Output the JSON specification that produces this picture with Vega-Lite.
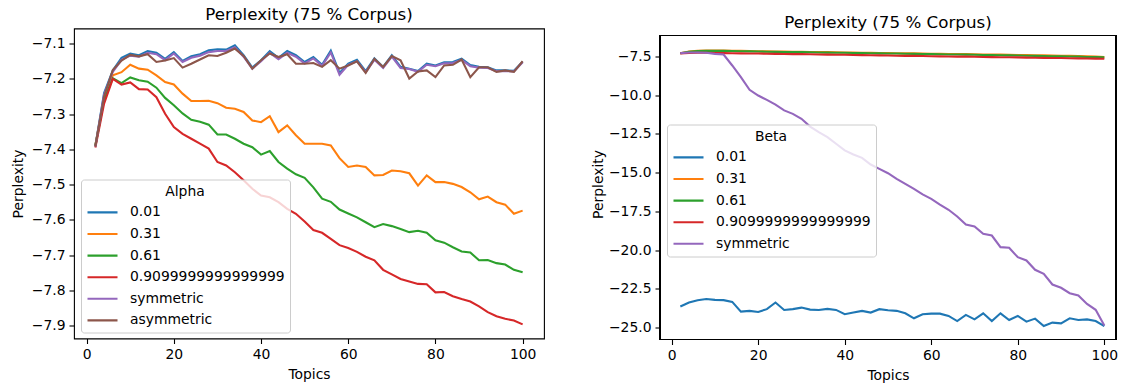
{
"$schema": "https://vega.github.io/schema/vega-lite/v6.json",
"background": "white",
"padding": {"left": 10, "top": 5.5, "right": 0, "bottom": 0},
"spacing": 46,
"align": "none",
"config": {
  "font": "DejaVu Sans",
  "view": {"stroke": "black", "strokeWidth": 1.1},
  "axis": {"grid": false, "domain": false, "tickColor": "black", "tickSize": 5, "tickWidth": 1.1, "labelColor": "black", "labelFontSize": 13.9, "labelPadding": 4, "titleFontSize": 13.9, "titleFontWeight": "normal", "titleColor": "black", "labelFont": "DejaVu Sans", "titleFont": "DejaVu Sans"},
  "title": {"fontSize": 16.7, "fontWeight": "normal", "font": "DejaVu Sans", "color": "black"},
  "legend": {"labelFont": "DejaVu Sans", "titleFont": "DejaVu Sans", "labelColor": "black", "titleColor": "black"}
},
"datasets": {
"L": [
{"t":2,"s":"0.01","v":-7.390},{"t":4,"s":"0.01","v":-7.240},{"t":6,"s":"0.01","v":-7.176},{"t":8,"s":"0.01","v":-7.140},{"t":10,"s":"0.01","v":-7.128},{"t":12,"s":"0.01","v":-7.133},{"t":14,"s":"0.01","v":-7.121},{"t":16,"s":"0.01","v":-7.126},{"t":18,"s":"0.01","v":-7.143},{"t":20,"s":"0.01","v":-7.124},
{"t":22,"s":"0.01","v":-7.149},{"t":24,"s":"0.01","v":-7.136},{"t":26,"s":"0.01","v":-7.130},{"t":28,"s":"0.01","v":-7.119},{"t":30,"s":"0.01","v":-7.116},{"t":32,"s":"0.01","v":-7.117},{"t":34,"s":"0.01","v":-7.105},{"t":36,"s":"0.01","v":-7.133},{"t":38,"s":"0.01","v":-7.168},{"t":40,"s":"0.01","v":-7.147},
{"t":42,"s":"0.01","v":-7.121},{"t":44,"s":"0.01","v":-7.140},{"t":46,"s":"0.01","v":-7.121},{"t":48,"s":"0.01","v":-7.133},{"t":50,"s":"0.01","v":-7.152},{"t":52,"s":"0.01","v":-7.138},{"t":54,"s":"0.01","v":-7.160},{"t":56,"s":"0.01","v":-7.120},{"t":58,"s":"0.01","v":-7.183},{"t":60,"s":"0.01","v":-7.157},
{"t":62,"s":"0.01","v":-7.146},{"t":64,"s":"0.01","v":-7.178},{"t":66,"s":"0.01","v":-7.142},{"t":68,"s":"0.01","v":-7.166},{"t":70,"s":"0.01","v":-7.133},{"t":72,"s":"0.01","v":-7.166},{"t":74,"s":"0.01","v":-7.171},{"t":76,"s":"0.01","v":-7.178},{"t":78,"s":"0.01","v":-7.157},{"t":80,"s":"0.01","v":-7.162},
{"t":82,"s":"0.01","v":-7.153},{"t":84,"s":"0.01","v":-7.152},{"t":86,"s":"0.01","v":-7.143},{"t":88,"s":"0.01","v":-7.161},{"t":90,"s":"0.01","v":-7.166},{"t":92,"s":"0.01","v":-7.167},{"t":94,"s":"0.01","v":-7.176},{"t":96,"s":"0.01","v":-7.176},{"t":98,"s":"0.01","v":-7.177},{"t":100,"s":"0.01","v":-7.151},
{"t":2,"s":"0.31","v":-7.388},{"t":4,"s":"0.31","v":-7.255},{"t":6,"s":"0.31","v":-7.19},{"t":8,"s":"0.31","v":-7.181},{"t":10,"s":"0.31","v":-7.16},{"t":12,"s":"0.31","v":-7.171},{"t":14,"s":"0.31","v":-7.174},{"t":16,"s":"0.31","v":-7.19},{"t":18,"s":"0.31","v":-7.209},{"t":20,"s":"0.31","v":-7.216},
{"t":22,"s":"0.31","v":-7.242},{"t":24,"s":"0.31","v":-7.263},{"t":26,"s":"0.31","v":-7.263},{"t":28,"s":"0.31","v":-7.262},{"t":30,"s":"0.31","v":-7.269},{"t":32,"s":"0.31","v":-7.282},{"t":34,"s":"0.31","v":-7.285},{"t":36,"s":"0.31","v":-7.294},{"t":38,"s":"0.31","v":-7.318},{"t":40,"s":"0.31","v":-7.323},
{"t":42,"s":"0.31","v":-7.306},{"t":44,"s":"0.31","v":-7.351},{"t":46,"s":"0.31","v":-7.332},{"t":48,"s":"0.31","v":-7.36},{"t":50,"s":"0.31","v":-7.384},{"t":52,"s":"0.31","v":-7.384},{"t":54,"s":"0.31","v":-7.384},{"t":56,"s":"0.31","v":-7.389},{"t":58,"s":"0.31","v":-7.425},{"t":60,"s":"0.31","v":-7.45},
{"t":62,"s":"0.31","v":-7.446},{"t":64,"s":"0.31","v":-7.45},{"t":66,"s":"0.31","v":-7.474},{"t":68,"s":"0.31","v":-7.473},{"t":70,"s":"0.31","v":-7.46},{"t":72,"s":"0.31","v":-7.462},{"t":74,"s":"0.31","v":-7.468},{"t":76,"s":"0.31","v":-7.503},{"t":78,"s":"0.31","v":-7.474},{"t":80,"s":"0.31","v":-7.493},
{"t":82,"s":"0.31","v":-7.493},{"t":84,"s":"0.31","v":-7.498},{"t":86,"s":"0.31","v":-7.507},{"t":88,"s":"0.31","v":-7.522},{"t":90,"s":"0.31","v":-7.542},{"t":92,"s":"0.31","v":-7.534},{"t":94,"s":"0.31","v":-7.55},{"t":96,"s":"0.31","v":-7.557},{"t":98,"s":"0.31","v":-7.583},{"t":100,"s":"0.31","v":-7.574},
{"t":2,"s":"0.61","v":-7.39},{"t":4,"s":"0.61","v":-7.26},{"t":6,"s":"0.61","v":-7.198},{"t":8,"s":"0.61","v":-7.212},{"t":10,"s":"0.61","v":-7.196},{"t":12,"s":"0.61","v":-7.204},{"t":14,"s":"0.61","v":-7.208},{"t":16,"s":"0.61","v":-7.225},{"t":18,"s":"0.61","v":-7.254},{"t":20,"s":"0.61","v":-7.275},
{"t":22,"s":"0.61","v":-7.298},{"t":24,"s":"0.61","v":-7.316},{"t":26,"s":"0.61","v":-7.322},{"t":28,"s":"0.61","v":-7.33},{"t":30,"s":"0.61","v":-7.358},{"t":32,"s":"0.61","v":-7.358},{"t":34,"s":"0.61","v":-7.37},{"t":36,"s":"0.61","v":-7.384},{"t":38,"s":"0.61","v":-7.394},{"t":40,"s":"0.61","v":-7.415},
{"t":42,"s":"0.61","v":-7.405},{"t":44,"s":"0.61","v":-7.436},{"t":46,"s":"0.61","v":-7.455},{"t":48,"s":"0.61","v":-7.471},{"t":50,"s":"0.61","v":-7.481},{"t":52,"s":"0.61","v":-7.508},{"t":54,"s":"0.61","v":-7.54},{"t":56,"s":"0.61","v":-7.549},{"t":58,"s":"0.61","v":-7.571},{"t":60,"s":"0.61","v":-7.582},
{"t":62,"s":"0.61","v":-7.593},{"t":64,"s":"0.61","v":-7.607},{"t":66,"s":"0.61","v":-7.621},{"t":68,"s":"0.61","v":-7.612},{"t":70,"s":"0.61","v":-7.618},{"t":72,"s":"0.61","v":-7.626},{"t":74,"s":"0.61","v":-7.635},{"t":76,"s":"0.61","v":-7.631},{"t":78,"s":"0.61","v":-7.637},{"t":80,"s":"0.61","v":-7.658},
{"t":82,"s":"0.61","v":-7.665},{"t":84,"s":"0.61","v":-7.678},{"t":86,"s":"0.61","v":-7.69},{"t":88,"s":"0.61","v":-7.693},{"t":90,"s":"0.61","v":-7.715},{"t":92,"s":"0.61","v":-7.714},{"t":94,"s":"0.61","v":-7.723},{"t":96,"s":"0.61","v":-7.727},{"t":98,"s":"0.61","v":-7.742},{"t":100,"s":"0.61","v":-7.749},
{"t":2,"s":"0.9099999999999999","v":-7.395},{"t":4,"s":"0.9099999999999999","v":-7.27},{"t":6,"s":"0.9099999999999999","v":-7.2},{"t":8,"s":"0.9099999999999999","v":-7.216},{"t":10,"s":"0.9099999999999999","v":-7.21},{"t":12,"s":"0.9099999999999999","v":-7.229},{"t":14,"s":"0.9099999999999999","v":-7.23},{"t":16,"s":"0.9099999999999999","v":-7.252},{"t":18,"s":"0.9099999999999999","v":-7.299},{"t":20,"s":"0.9099999999999999","v":-7.337},
{"t":22,"s":"0.9099999999999999","v":-7.356},{"t":24,"s":"0.9099999999999999","v":-7.37},{"t":26,"s":"0.9099999999999999","v":-7.384},{"t":28,"s":"0.9099999999999999","v":-7.398},{"t":30,"s":"0.9099999999999999","v":-7.436},{"t":32,"s":"0.9099999999999999","v":-7.446},{"t":34,"s":"0.9099999999999999","v":-7.465},{"t":36,"s":"0.9099999999999999","v":-7.488},{"t":38,"s":"0.9099999999999999","v":-7.512},{"t":40,"s":"0.9099999999999999","v":-7.531},
{"t":42,"s":"0.9099999999999999","v":-7.536},{"t":44,"s":"0.9099999999999999","v":-7.55},{"t":46,"s":"0.9099999999999999","v":-7.569},{"t":48,"s":"0.9099999999999999","v":-7.583},{"t":50,"s":"0.9099999999999999","v":-7.605},{"t":52,"s":"0.9099999999999999","v":-7.629},{"t":54,"s":"0.9099999999999999","v":-7.637},{"t":56,"s":"0.9099999999999999","v":-7.654},{"t":58,"s":"0.9099999999999999","v":-7.672},{"t":60,"s":"0.9099999999999999","v":-7.68},
{"t":62,"s":"0.9099999999999999","v":-7.691},{"t":64,"s":"0.9099999999999999","v":-7.705},{"t":66,"s":"0.9099999999999999","v":-7.715},{"t":68,"s":"0.9099999999999999","v":-7.742},{"t":70,"s":"0.9099999999999999","v":-7.755},{"t":72,"s":"0.9099999999999999","v":-7.768},{"t":74,"s":"0.9099999999999999","v":-7.775},{"t":76,"s":"0.9099999999999999","v":-7.782},{"t":78,"s":"0.9099999999999999","v":-7.783},{"t":80,"s":"0.9099999999999999","v":-7.806},
{"t":82,"s":"0.9099999999999999","v":-7.805},{"t":84,"s":"0.9099999999999999","v":-7.817},{"t":86,"s":"0.9099999999999999","v":-7.825},{"t":88,"s":"0.9099999999999999","v":-7.832},{"t":90,"s":"0.9099999999999999","v":-7.846},{"t":92,"s":"0.9099999999999999","v":-7.862},{"t":94,"s":"0.9099999999999999","v":-7.874},{"t":96,"s":"0.9099999999999999","v":-7.881},{"t":98,"s":"0.9099999999999999","v":-7.886},{"t":100,"s":"0.9099999999999999","v":-7.897},
{"t":2,"s":"symmetric","v":-7.392},{"t":4,"s":"symmetric","v":-7.245},{"t":6,"s":"symmetric","v":-7.180},{"t":8,"s":"symmetric","v":-7.146},{"t":10,"s":"symmetric","v":-7.134},{"t":12,"s":"symmetric","v":-7.137},{"t":14,"s":"symmetric","v":-7.126},{"t":16,"s":"symmetric","v":-7.130},{"t":18,"s":"symmetric","v":-7.147},{"t":20,"s":"symmetric","v":-7.128},
{"t":22,"s":"symmetric","v":-7.152},{"t":24,"s":"symmetric","v":-7.140},{"t":26,"s":"symmetric","v":-7.134},{"t":28,"s":"symmetric","v":-7.124},{"t":30,"s":"symmetric","v":-7.121},{"t":32,"s":"symmetric","v":-7.121},{"t":34,"s":"symmetric","v":-7.110},{"t":36,"s":"symmetric","v":-7.137},{"t":38,"s":"symmetric","v":-7.171},{"t":40,"s":"symmetric","v":-7.150},
{"t":42,"s":"symmetric","v":-7.126},{"t":44,"s":"symmetric","v":-7.144},{"t":46,"s":"symmetric","v":-7.126},{"t":48,"s":"symmetric","v":-7.137},{"t":50,"s":"symmetric","v":-7.156},{"t":52,"s":"symmetric","v":-7.142},{"t":54,"s":"symmetric","v":-7.163},{"t":56,"s":"symmetric","v":-7.125},{"t":58,"s":"symmetric","v":-7.188},{"t":60,"s":"symmetric","v":-7.160},
{"t":62,"s":"symmetric","v":-7.150},{"t":64,"s":"symmetric","v":-7.181},{"t":66,"s":"symmetric","v":-7.146},{"t":68,"s":"symmetric","v":-7.169},{"t":70,"s":"symmetric","v":-7.137},{"t":72,"s":"symmetric","v":-7.169},{"t":74,"s":"symmetric","v":-7.172},{"t":76,"s":"symmetric","v":-7.180},{"t":78,"s":"symmetric","v":-7.160},{"t":80,"s":"symmetric","v":-7.164},
{"t":82,"s":"symmetric","v":-7.156},{"t":84,"s":"symmetric","v":-7.155},{"t":86,"s":"symmetric","v":-7.146},{"t":88,"s":"symmetric","v":-7.164},{"t":90,"s":"symmetric","v":-7.168},{"t":92,"s":"symmetric","v":-7.169},{"t":94,"s":"symmetric","v":-7.178},{"t":96,"s":"symmetric","v":-7.178},{"t":98,"s":"symmetric","v":-7.179},{"t":100,"s":"symmetric","v":-7.153},
{"t":2,"s":"asymmetric","v":-7.392},{"t":4,"s":"asymmetric","v":-7.25},{"t":6,"s":"asymmetric","v":-7.175},{"t":8,"s":"asymmetric","v":-7.148},{"t":10,"s":"asymmetric","v":-7.132},{"t":12,"s":"asymmetric","v":-7.136},{"t":14,"s":"asymmetric","v":-7.13},{"t":16,"s":"asymmetric","v":-7.152},{"t":18,"s":"asymmetric","v":-7.148},{"t":20,"s":"asymmetric","v":-7.141},
{"t":22,"s":"asymmetric","v":-7.168},{"t":24,"s":"asymmetric","v":-7.157},{"t":26,"s":"asymmetric","v":-7.145},{"t":28,"s":"asymmetric","v":-7.133},{"t":30,"s":"asymmetric","v":-7.135},{"t":32,"s":"asymmetric","v":-7.126},{"t":34,"s":"asymmetric","v":-7.114},{"t":36,"s":"asymmetric","v":-7.135},{"t":38,"s":"asymmetric","v":-7.171},{"t":40,"s":"asymmetric","v":-7.147},
{"t":42,"s":"asymmetric","v":-7.128},{"t":44,"s":"asymmetric","v":-7.138},{"t":46,"s":"asymmetric","v":-7.13},{"t":48,"s":"asymmetric","v":-7.157},{"t":50,"s":"asymmetric","v":-7.157},{"t":52,"s":"asymmetric","v":-7.155},{"t":54,"s":"asymmetric","v":-7.166},{"t":56,"s":"asymmetric","v":-7.147},{"t":58,"s":"asymmetric","v":-7.171},{"t":60,"s":"asymmetric","v":-7.162},
{"t":62,"s":"asymmetric","v":-7.15},{"t":64,"s":"asymmetric","v":-7.183},{"t":66,"s":"asymmetric","v":-7.143},{"t":68,"s":"asymmetric","v":-7.166},{"t":70,"s":"asymmetric","v":-7.135},{"t":72,"s":"asymmetric","v":-7.147},{"t":74,"s":"asymmetric","v":-7.199},{"t":76,"s":"asymmetric","v":-7.179},{"t":78,"s":"asymmetric","v":-7.176},{"t":80,"s":"asymmetric","v":-7.195},
{"t":82,"s":"asymmetric","v":-7.162},{"t":84,"s":"asymmetric","v":-7.16},{"t":86,"s":"asymmetric","v":-7.145},{"t":88,"s":"asymmetric","v":-7.195},{"t":90,"s":"asymmetric","v":-7.167},{"t":92,"s":"asymmetric","v":-7.167},{"t":94,"s":"asymmetric","v":-7.18},{"t":96,"s":"asymmetric","v":-7.176},{"t":98,"s":"asymmetric","v":-7.18},{"t":100,"s":"asymmetric","v":-7.15}
],
"R": [
{"t":2,"s":"0.01","v":-23.63},{"t":4,"s":"0.01","v":-23.37},{"t":6,"s":"0.01","v":-23.22},{"t":8,"s":"0.01","v":-23.15},{"t":10,"s":"0.01","v":-23.20},{"t":12,"s":"0.01","v":-23.22},{"t":14,"s":"0.01","v":-23.33},{"t":16,"s":"0.01","v":-23.96},{"t":18,"s":"0.01","v":-23.91},{"t":20,"s":"0.01","v":-23.98},
{"t":22,"s":"0.01","v":-23.80},{"t":24,"s":"0.01","v":-23.37},{"t":26,"s":"0.01","v":-23.85},{"t":28,"s":"0.01","v":-23.80},{"t":30,"s":"0.01","v":-23.70},{"t":32,"s":"0.01","v":-23.83},{"t":34,"s":"0.01","v":-23.85},{"t":36,"s":"0.01","v":-23.78},{"t":38,"s":"0.01","v":-23.85},{"t":40,"s":"0.01","v":-24.13},
{"t":42,"s":"0.01","v":-24.02},{"t":44,"s":"0.01","v":-23.91},{"t":46,"s":"0.01","v":-24.02},{"t":48,"s":"0.01","v":-23.80},{"t":50,"s":"0.01","v":-23.87},{"t":52,"s":"0.01","v":-23.91},{"t":54,"s":"0.01","v":-24.07},{"t":56,"s":"0.01","v":-24.39},{"t":58,"s":"0.01","v":-24.13},{"t":60,"s":"0.01","v":-24.09},
{"t":62,"s":"0.01","v":-24.09},{"t":64,"s":"0.01","v":-24.24},{"t":66,"s":"0.01","v":-24.57},{"t":68,"s":"0.01","v":-24.17},{"t":70,"s":"0.01","v":-24.46},{"t":72,"s":"0.01","v":-24.07},{"t":74,"s":"0.01","v":-24.57},{"t":76,"s":"0.01","v":-24.07},{"t":78,"s":"0.01","v":-24.50},{"t":80,"s":"0.01","v":-24.24},
{"t":82,"s":"0.01","v":-24.61},{"t":84,"s":"0.01","v":-24.41},{"t":86,"s":"0.01","v":-24.89},{"t":88,"s":"0.01","v":-24.67},{"t":90,"s":"0.01","v":-24.72},{"t":92,"s":"0.01","v":-24.39},{"t":94,"s":"0.01","v":-24.50},{"t":96,"s":"0.01","v":-24.46},{"t":98,"s":"0.01","v":-24.57},{"t":100,"s":"0.01","v":-24.89},
{"t":2,"s":"0.31","v":-7.29},{"t":4,"s":"0.31","v":-7.18},{"t":6,"s":"0.31","v":-7.14},{"t":8,"s":"0.31","v":-7.12},{"t":10,"s":"0.31","v":-7.11},{"t":12,"s":"0.31","v":-7.12},{"t":14,"s":"0.31","v":-7.13},{"t":16,"s":"0.31","v":-7.14},{"t":18,"s":"0.31","v":-7.15},{"t":20,"s":"0.31","v":-7.16},
{"t":22,"s":"0.31","v":-7.17},{"t":24,"s":"0.31","v":-7.18},{"t":26,"s":"0.31","v":-7.18},{"t":28,"s":"0.31","v":-7.19},{"t":30,"s":"0.31","v":-7.20},{"t":32,"s":"0.31","v":-7.21},{"t":34,"s":"0.31","v":-7.22},{"t":36,"s":"0.31","v":-7.22},{"t":38,"s":"0.31","v":-7.23},{"t":40,"s":"0.31","v":-7.24},
{"t":42,"s":"0.31","v":-7.25},{"t":44,"s":"0.31","v":-7.26},{"t":46,"s":"0.31","v":-7.26},{"t":48,"s":"0.31","v":-7.27},{"t":50,"s":"0.31","v":-7.28},{"t":52,"s":"0.31","v":-7.29},{"t":54,"s":"0.31","v":-7.30},{"t":56,"s":"0.31","v":-7.30},{"t":58,"s":"0.31","v":-7.31},{"t":60,"s":"0.31","v":-7.32},
{"t":62,"s":"0.31","v":-7.33},{"t":64,"s":"0.31","v":-7.34},{"t":66,"s":"0.31","v":-7.34},{"t":68,"s":"0.31","v":-7.35},{"t":70,"s":"0.31","v":-7.36},{"t":72,"s":"0.31","v":-7.37},{"t":74,"s":"0.31","v":-7.38},{"t":76,"s":"0.31","v":-7.38},{"t":78,"s":"0.31","v":-7.39},{"t":80,"s":"0.31","v":-7.40},
{"t":82,"s":"0.31","v":-7.41},{"t":84,"s":"0.31","v":-7.42},{"t":86,"s":"0.31","v":-7.43},{"t":88,"s":"0.31","v":-7.44},{"t":90,"s":"0.31","v":-7.45},{"t":92,"s":"0.31","v":-7.46},{"t":94,"s":"0.31","v":-7.47},{"t":96,"s":"0.31","v":-7.49},{"t":98,"s":"0.31","v":-7.51},{"t":100,"s":"0.31","v":-7.54},
{"t":2,"s":"0.61","v":-7.29},{"t":4,"s":"0.61","v":-7.19},{"t":6,"s":"0.61","v":-7.15},{"t":8,"s":"0.61","v":-7.14},{"t":10,"s":"0.61","v":-7.13},{"t":12,"s":"0.61","v":-7.14},{"t":14,"s":"0.61","v":-7.15},{"t":16,"s":"0.61","v":-7.16},{"t":18,"s":"0.61","v":-7.17},{"t":20,"s":"0.61","v":-7.18},
{"t":22,"s":"0.61","v":-7.19},{"t":24,"s":"0.61","v":-7.20},{"t":26,"s":"0.61","v":-7.21},{"t":28,"s":"0.61","v":-7.21},{"t":30,"s":"0.61","v":-7.22},{"t":32,"s":"0.61","v":-7.23},{"t":34,"s":"0.61","v":-7.24},{"t":36,"s":"0.61","v":-7.25},{"t":38,"s":"0.61","v":-7.26},{"t":40,"s":"0.61","v":-7.26},
{"t":42,"s":"0.61","v":-7.27},{"t":44,"s":"0.61","v":-7.28},{"t":46,"s":"0.61","v":-7.29},{"t":48,"s":"0.61","v":-7.30},{"t":50,"s":"0.61","v":-7.31},{"t":52,"s":"0.61","v":-7.31},{"t":54,"s":"0.61","v":-7.32},{"t":56,"s":"0.61","v":-7.33},{"t":58,"s":"0.61","v":-7.34},{"t":60,"s":"0.61","v":-7.35},
{"t":62,"s":"0.61","v":-7.36},{"t":64,"s":"0.61","v":-7.37},{"t":66,"s":"0.61","v":-7.37},{"t":68,"s":"0.61","v":-7.38},{"t":70,"s":"0.61","v":-7.39},{"t":72,"s":"0.61","v":-7.40},{"t":74,"s":"0.61","v":-7.41},{"t":76,"s":"0.61","v":-7.42},{"t":78,"s":"0.61","v":-7.43},{"t":80,"s":"0.61","v":-7.44},
{"t":82,"s":"0.61","v":-7.45},{"t":84,"s":"0.61","v":-7.46},{"t":86,"s":"0.61","v":-7.47},{"t":88,"s":"0.61","v":-7.48},{"t":90,"s":"0.61","v":-7.49},{"t":92,"s":"0.61","v":-7.50},{"t":94,"s":"0.61","v":-7.51},{"t":96,"s":"0.61","v":-7.53},{"t":98,"s":"0.61","v":-7.54},{"t":100,"s":"0.61","v":-7.56},
{"t":2,"s":"0.9099999999999999","v":-7.30},{"t":4,"s":"0.9099999999999999","v":-7.27},{"t":6,"s":"0.9099999999999999","v":-7.26},{"t":8,"s":"0.9099999999999999","v":-7.26},{"t":10,"s":"0.9099999999999999","v":-7.27},{"t":12,"s":"0.9099999999999999","v":-7.28},{"t":14,"s":"0.9099999999999999","v":-7.29},{"t":16,"s":"0.9099999999999999","v":-7.30},{"t":18,"s":"0.9099999999999999","v":-7.31},{"t":20,"s":"0.9099999999999999","v":-7.31},
{"t":22,"s":"0.9099999999999999","v":-7.32},{"t":24,"s":"0.9099999999999999","v":-7.33},{"t":26,"s":"0.9099999999999999","v":-7.34},{"t":28,"s":"0.9099999999999999","v":-7.35},{"t":30,"s":"0.9099999999999999","v":-7.35},{"t":32,"s":"0.9099999999999999","v":-7.36},{"t":34,"s":"0.9099999999999999","v":-7.37},{"t":36,"s":"0.9099999999999999","v":-7.38},{"t":38,"s":"0.9099999999999999","v":-7.39},{"t":40,"s":"0.9099999999999999","v":-7.39},
{"t":42,"s":"0.9099999999999999","v":-7.40},{"t":44,"s":"0.9099999999999999","v":-7.41},{"t":46,"s":"0.9099999999999999","v":-7.42},{"t":48,"s":"0.9099999999999999","v":-7.43},{"t":50,"s":"0.9099999999999999","v":-7.44},{"t":52,"s":"0.9099999999999999","v":-7.45},{"t":54,"s":"0.9099999999999999","v":-7.46},{"t":56,"s":"0.9099999999999999","v":-7.46},{"t":58,"s":"0.9099999999999999","v":-7.47},{"t":60,"s":"0.9099999999999999","v":-7.48},
{"t":62,"s":"0.9099999999999999","v":-7.49},{"t":64,"s":"0.9099999999999999","v":-7.50},{"t":66,"s":"0.9099999999999999","v":-7.51},{"t":68,"s":"0.9099999999999999","v":-7.51},{"t":70,"s":"0.9099999999999999","v":-7.52},{"t":72,"s":"0.9099999999999999","v":-7.53},{"t":74,"s":"0.9099999999999999","v":-7.54},{"t":76,"s":"0.9099999999999999","v":-7.55},{"t":78,"s":"0.9099999999999999","v":-7.55},{"t":80,"s":"0.9099999999999999","v":-7.56},
{"t":82,"s":"0.9099999999999999","v":-7.57},{"t":84,"s":"0.9099999999999999","v":-7.58},{"t":86,"s":"0.9099999999999999","v":-7.59},{"t":88,"s":"0.9099999999999999","v":-7.60},{"t":90,"s":"0.9099999999999999","v":-7.60},{"t":92,"s":"0.9099999999999999","v":-7.61},{"t":94,"s":"0.9099999999999999","v":-7.62},{"t":96,"s":"0.9099999999999999","v":-7.63},{"t":98,"s":"0.9099999999999999","v":-7.64},{"t":100,"s":"0.9099999999999999","v":-7.65},
{"t":2,"s":"symmetric","v":-7.28},{"t":4,"s":"symmetric","v":-7.24},{"t":6,"s":"symmetric","v":-7.24},{"t":8,"s":"symmetric","v":-7.26},{"t":10,"s":"symmetric","v":-7.33},{"t":12,"s":"symmetric","v":-7.37},{"t":14,"s":"symmetric","v":-8.08},{"t":16,"s":"symmetric","v":-8.83},{"t":18,"s":"symmetric","v":-9.65},{"t":20,"s":"symmetric","v":-10.02},
{"t":22,"s":"symmetric","v":-10.30},{"t":24,"s":"symmetric","v":-10.60},{"t":26,"s":"symmetric","v":-10.98},{"t":28,"s":"symmetric","v":-11.20},{"t":30,"s":"symmetric","v":-11.52},{"t":32,"s":"symmetric","v":-12.02},{"t":34,"s":"symmetric","v":-12.38},{"t":36,"s":"symmetric","v":-12.70},{"t":38,"s":"symmetric","v":-13.13},{"t":40,"s":"symmetric","v":-13.56},
{"t":42,"s":"symmetric","v":-13.82},{"t":44,"s":"symmetric","v":-14.04},{"t":46,"s":"symmetric","v":-14.47},{"t":48,"s":"symmetric","v":-14.75},{"t":50,"s":"symmetric","v":-15.03},{"t":52,"s":"symmetric","v":-15.39},{"t":54,"s":"symmetric","v":-15.72},{"t":56,"s":"symmetric","v":-16.04},{"t":58,"s":"symmetric","v":-16.40},{"t":60,"s":"symmetric","v":-16.68},
{"t":62,"s":"symmetric","v":-17.05},{"t":64,"s":"symmetric","v":-17.39},{"t":66,"s":"symmetric","v":-17.82},{"t":68,"s":"symmetric","v":-18.34},{"t":70,"s":"symmetric","v":-18.47},{"t":72,"s":"symmetric","v":-18.94},{"t":74,"s":"symmetric","v":-19.05},{"t":76,"s":"symmetric","v":-19.80},{"t":78,"s":"symmetric","v":-19.84},{"t":80,"s":"symmetric","v":-20.45},
{"t":82,"s":"symmetric","v":-20.66},{"t":84,"s":"symmetric","v":-21.26},{"t":86,"s":"symmetric","v":-21.52},{"t":88,"s":"symmetric","v":-22.21},{"t":90,"s":"symmetric","v":-22.42},{"t":92,"s":"symmetric","v":-22.77},{"t":94,"s":"symmetric","v":-22.92},{"t":96,"s":"symmetric","v":-23.46},{"t":98,"s":"symmetric","v":-23.84},{"t":100,"s":"symmetric","v":-24.85}
]
},
"hconcat": [
{
  "data": {"name": "L"},
  "width": 470,
  "height": 310,
  "title": {"text": "Perplexity (75 % Corpus)", "offset": 5},
  "mark": {"type": "line", "strokeWidth": 2.1},
  "encoding": {
    "x": {"field": "t", "type": "quantitative", "scale": {"domain": [-2.9, 104.9], "nice": false, "zero": false}, "axis": {"title": "Topics", "values": [0, 20, 40, 60, 80, 100], "titlePadding": 6}},
    "y": {"field": "v", "type": "quantitative", "scale": {"domain": [-7.937, -7.057], "nice": false, "zero": false}, "axis": {"title": "Perplexity", "values": [-7.9, -7.8, -7.7, -7.6, -7.5, -7.4, -7.3, -7.2, -7.1], "format": ".1f", "labelExpr": "replace(datum.label, '-', '−')", "titlePadding": 6}},
    "color": {"field": "s", "type": "nominal",
      "scale": {"domain": ["0.01", "0.31", "0.61", "0.9099999999999999", "symmetric", "asymmetric"], "range": ["#1f77b4", "#ff7f0e", "#2ca02c", "#d62728", "#9467bd", "#8c564b"]},
      "legend": {"title": "Alpha", "orient": "none", "legendX": 7, "legendY": 151, "titleAnchor": "middle", "titleAlign": "center", "titlePadding": 7, "symbolType": "stroke", "symbolSize": 900, "clipHeight": 14, "symbolStrokeWidth": 2.1, "labelFontSize": 13.9, "titleFontSize": 13.9, "titleFontWeight": "normal", "fillColor": "rgba(255,255,255,0.8)", "strokeColor": "#cccccc", "cornerRadius": 3, "padding": 5, "rowPadding": 7.6, "labelOffset": 11, "labelLimit": 300}}
  }
},
{
  "data": {"name": "R"},
  "width": 456,
  "height": 311,
  "view": {"stroke": null},
  "title": {"text": "Perplexity (75 % Corpus)", "offset": -3.5},
  "layer": [
    {
      "mark": {"type": "line", "strokeWidth": 2.1},
      "encoding": {
        "x": {"field": "t", "type": "quantitative", "scale": {"domain": [-2.7, 102.7], "nice": false, "zero": false}, "axis": {"title": "Topics", "values": [0, 20, 40, 60, 80, 100], "titlePadding": 6}},
        "y": {"field": "v", "type": "quantitative", "scale": {"domain": [-25.758, -5.694], "nice": false, "zero": false}, "axis": {"title": "Perplexity", "values": [-25, -22.5, -20, -17.5, -15, -12.5, -10, -7.5], "format": ".1f", "labelExpr": "replace(datum.label, '-', '−')", "titlePadding": 3}},
        "color": {"field": "s", "type": "nominal",
          "scale": {"domain": ["0.01", "0.31", "0.61", "0.9099999999999999", "symmetric"], "range": ["#1f77b4", "#ff7f0e", "#2ca02c", "#d62728", "#9467bd"]},
          "legend": {"title": "Beta", "orient": "none", "legendX": 7, "legendY": 96, "titleAnchor": "middle", "titleAlign": "center", "titlePadding": 7, "symbolType": "stroke", "symbolSize": 900, "clipHeight": 14, "symbolStrokeWidth": 2.1, "labelFontSize": 13.9, "titleFontSize": 13.9, "titleFontWeight": "normal", "fillColor": "rgba(255,255,255,0.8)", "strokeColor": "#cccccc", "cornerRadius": 3, "padding": 5, "rowPadding": 7.6, "labelOffset": 11, "labelLimit": 300}}
      }
    },
    {
      "mark": {"type": "rect", "fill": "transparent", "stroke": "black", "strokeWidth": 1.1},
      "encoding": {
        "x": {"datum": -2.7, "type": "quantitative", "title": "Topics"},
        "x2": {"datum": 102.7},
        "y": {"datum": -6.146, "type": "quantitative", "title": "Perplexity"},
        "y2": {"datum": -25.758}
      }
    }
  ]
}
],
"resolve": {"scale": {"color": "independent", "x": "independent", "y": "independent"}, "legend": {"color": "independent"}}
}
